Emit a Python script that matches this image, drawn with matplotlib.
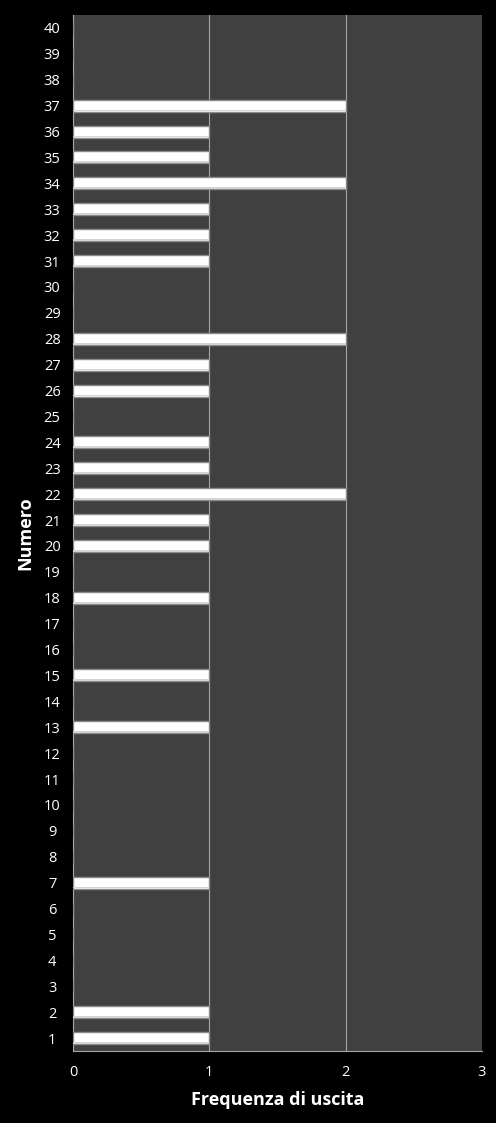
import matplotlib.pyplot as plt
import numpy as np

numeri = list(range(1, 41))
frequenze = [1, 1, 0, 0, 0, 0, 1, 0, 0, 0,
             0, 0, 1, 0, 1, 0, 0, 1, 0, 1,
             1, 2, 1, 1, 0, 1, 1, 2, 0, 0,
             1, 1, 1, 2, 1, 1, 2, 0, 0, 0]

plt.rcParams['font.family'] = ['Open Sans', 'DejaVu Sans']

fig = plt.figure(figsize=(4.96, 11.23), dpi=100, facecolor="black")
ax = fig.add_axes([73/496, 1-1051/1123, (482-73)/496, (1051-15)/1123])
ax.set_facecolor("#404040")

ax.barh(numeri, frequenze, height=0.46, color="white", edgecolor="#8a8a8a", linewidth=1, zorder=3)
# leggera ombra sul bordo basso delle barre
ax.barh(np.array(numeri) - 0.19, frequenze, height=0.07, color="#d4d4d4", linewidth=0, zorder=4)

ax.set_xlim(0, 3)
ax.set_ylim(0.5, 40.5)
ax.set_xticks([0, 1, 2, 3])
ax.set_yticks(numeri)
ax.xaxis.grid(True, color="#a6a6a6", linewidth=0.8, zorder=1)
ax.tick_params(colors="white", length=0, labelsize=10.5, pad=10)
ax.tick_params(axis="y", pad=15)
for lab in ax.get_yticklabels():
    lab.set_horizontalalignment("center")

for s in ["top", "right"]:
    ax.spines[s].set_visible(False)
for s in ["left", "bottom"]:
    ax.spines[s].set_color("#a6a6a6")
    ax.spines[s].set_linewidth(0.8)

ax.set_xlabel("Frequenza di uscita", color="white", fontsize=13, fontweight="bold", labelpad=8)
ax.set_ylabel("Numero", color="white", fontsize=13, fontweight="bold", labelpad=7)

fig.savefig("out.png", dpi=100, facecolor="black")
